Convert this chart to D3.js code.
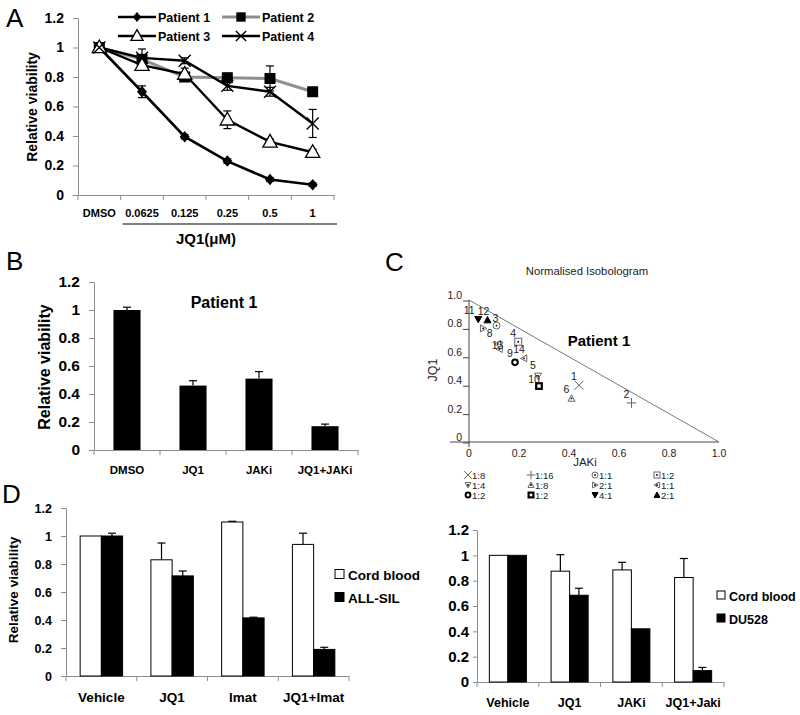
<!DOCTYPE html>
<html><head><meta charset="utf-8">
<script src="https://cdn.jsdelivr.net/npm/d3@7"></script>
<style>body{margin:0;background:#fff}svg{display:block}text{font-family:Arial,"Liberation Sans",sans-serif}</style>
</head><body><svg id="c" width="800" height="715"></svg>
<script>
// ---------- DATA ----------
const doses = ["DMSO","0.0625","0.125","0.25","0.5","1"];
const patient1 = [1,0.70,0.395,0.23,0.105,0.07];
const patient1Err = [0,0.04,0.015,0.015,0.012,0.012];
const patient2 = [1,0.92,0.80,0.795,0.79,0.70];
const patient2Err = [0,0.03,0.02,0.03,0.085,0.02];
const patient3 = [1,0.88,0.82,0.51,0.36,0.29];
const patient3Err = [0,0.03,0.04,0.06,0.02,0.02];
const patient4 = [1,0.93,0.91,0.74,0.70,0.485];
const patient4Err = [0,0.06,0.02,0.03,0.03,0.095];
const patientNames = ["Patient 1","Patient 2","Patient 3","Patient 4"];
const yTicks = [0,0.2,0.4,0.6,0.8,1,1.2];

const bCats = ["DMSO","JQ1","JAKi","JQ1+JAKi"];
const bVals = [1.0,0.46,0.51,0.17];
const bErr = [0.02,0.035,0.05,0.015];

const isoIds = ["1","2","3","4","5","6","7","8","9","10","11","12","13","14"];
const isoJAKi = [0.44,0.65,0.11,0.197,0.276,0.41,0.057,0.115,0.184,0.28,0.037,0.074,0.122,0.22];
const isoJQ1  = [0.40,0.275,0.82,0.706,0.465,0.307,0.80,0.69,0.561,0.394,0.864,0.859,0.655,0.589];
const isoSym  = ["x","plus","circleDot","squareDot","triDownDot","triUpDot","triRightDot","triLeftDot","circleBold","squareBold","triDownFill","triUpFill","triLeftDot","triLeftDot"];
const isoShowLabel = [true,true,true,true,true,true,false,true,true,true,true,true,true,true];
const isoTicks = [0,0.2,0.4,0.6,0.8,1.0];
const isoLegendSym = ["x","plus","circleDot","squareDot","triDownDot","triUpDot","triRightDot","triLeftDot","circleBold","squareBold","triDownFill","triUpFill"];
const isoLegendText = ["1:8","1:16","1:1","1:2","1:4","1:8","2:1","1:1","1:2","1:2","4:1","2:1"];

const dCatsL = ["Vehicle","JQ1","Imat","JQ1+Imat"];
const cordL = [1.0,0.83,1.10,0.94];
const cordLErr = [0,0.12,0.005,0.08];
const allSil = [1.0,0.715,0.415,0.19];
const allSilErr = [0.02,0.035,0.005,0.015];
const seriesL = ["Cord blood","ALL-SIL"];

const dCatsR = ["Vehicle","JQ1","JAKi","JQ1+Jaki"];
const cordR = [1.0,0.875,0.885,0.825];
const cordRErr = [0,0.13,0.06,0.15];
const du528 = [1.0,0.685,0.42,0.09];
const du528Err = [0,0.055,0,0.025];
const seriesR = ["Cord blood","DU528"];

// ---------- HELPERS ----------
const svg = d3.select("#c");
const AX = "#8c8c8c";
const fmt = v => v===0 ? "0" : (v===1 ? "1" : d3.format(".1f")(v));

function yAxis(y, x0, fs, tickLen, pad) {
  const g = svg.append("g").attr("transform",`translate(${x0},0)`)
    .call(d3.axisLeft(y).tickValues(yTicks).tickFormat(fmt).tickSize(tickLen).tickSizeOuter(0).tickPadding(pad));
  g.select(".domain").attr("stroke",AX);
  g.selectAll(".tick line").attr("stroke",AX);
  g.selectAll("text").attr("font-size",fs).attr("font-weight","bold").attr("fill","#000").attr("font-family",null);
  return g;
}
function catAxis(x, y0, fs, pad) {
  const g = svg.append("g").attr("transform",`translate(0,${y0})`)
    .call(d3.axisBottom(x).tickSize(0).tickSizeOuter(0).tickPadding(pad));
  g.select(".domain").attr("stroke",AX);
  g.selectAll("text").attr("font-size",fs).attr("font-weight","bold").attr("fill","#000").attr("font-family",null);
  const bounds = x.domain().map(d=>x(d)).concat([x(x.domain()[x.domain().length-1])+x.bandwidth()]);
  g.selectAll(".bt").data(bounds).join("line").attr("x1",d=>d).attr("x2",d=>d)
    .attr("y1",0).attr("y2",5).attr("stroke",AX);
  return g;
}
function errBar(x, yTop, yBase, cap, both) {
  const g = svg.append("g").attr("stroke","#000").attr("stroke-width",1.2);
  g.append("line").attr("x1",x).attr("x2",x).attr("y1",yTop).attr("y2",yBase);
  g.append("line").attr("x1",x-cap).attr("x2",x+cap).attr("y1",yTop).attr("y2",yTop);
  if (both) g.append("line").attr("x1",x-cap).attr("x2",x+cap).attr("y1",yBase).attr("y2",yBase);
}
function label(txt, x, y, fs, opts={}) {
  const t = svg.append("text").attr("x",x).attr("y",y).attr("font-size",fs).text(txt)
    .attr("font-weight",opts.bold?"bold":"normal").attr("text-anchor",opts.anchor||"start")
    .attr("fill",opts.fill||"#000");
  if (opts.rotate) t.attr("transform",`rotate(-90,${x},${y})`).attr("dy","0.35em");
  return t;
}

// ---------- PANEL A ----------
label("A",6,27,26);
const yA = d3.scaleLinear([0,1.2],[195,18]);
const xA = d3.scaleBand(doses,[78,334]);
yAxis(yA,78,14,5,9);
catAxis(xA,195,11,14);
svg.append("line").attr("x1",xA(doses[1])+2).attr("x2",xA(doses[5])+xA.bandwidth()+3)
  .attr("y1",224).attr("y2",224).attr("stroke","#000");
label("JQ1(μM)",206,244,15,{bold:true,anchor:"middle"});
label("Relative viability",32,107,14,{bold:true,anchor:"middle",rotate:true});

const cx = d => xA(d)+xA.bandwidth()/2;
const seriesA = [
  {v:patient1,e:patient1Err,color:"#000",w:2.6,m:"diamond"},
  {v:patient2,e:patient2Err,color:"#8f8f8f",w:3,m:"square"},
  {v:patient3,e:patient3Err,color:"#000",w:2.4,m:"triangle"},
  {v:patient4,e:patient4Err,color:"#000",w:2.4,m:"x"}
];
function markerA(g,type,x,y,s){
  if(type==="diamond") g.append("path").attr("d",`M${x},${y-s*1.15}L${x+s},${y}L${x},${y+s*1.15}L${x-s},${y}Z`).attr("fill","#000");
  if(type==="square") g.append("rect").attr("x",x-s).attr("y",y-s).attr("width",2*s).attr("height",2*s).attr("fill","#000");
  if(type==="triangle") g.append("path").attr("d",`M${x},${y-s*1.15}L${x+s*1.1},${y+s*0.8}L${x-s*1.1},${y+s*0.8}Z`).attr("fill","#fff").attr("stroke","#000").attr("stroke-width",1.3);
  if(type==="x") g.append("path").attr("d",`M${x-s},${y-s}L${x+s},${y+s}M${x-s},${y+s}L${x+s},${y-s}`).attr("stroke","#000").attr("stroke-width",1.4);
}
const sizeA = {diamond:5,square:5.5,triangle:6.5,x:6};
const lineA = d3.line().x((d,i)=>cx(doses[i])).y(d=>yA(d));
seriesA.forEach(s=>{
  s.v.forEach((v,i)=>{ if(s.e[i]>0) errBar(cx(doses[i]), yA(v+s.e[i]), yA(v-s.e[i]), 4, true); });
});
seriesA.forEach(s=>{
  svg.append("path").datum(s.v).attr("d",lineA).attr("fill","none").attr("stroke",s.color).attr("stroke-width",s.w);
});
seriesA.forEach(s=>{
  const g = svg.append("g");
  s.v.forEach((v,i)=>markerA(g,s.m,cx(doses[i]),yA(v),sizeA[s.m]));
});
// legend A
const legPos = [[118,17],[222,17],[118,36],[222,36]];
seriesA.forEach((s,i)=>{
  const [lx,ly] = legPos[i];
  svg.append("line").attr("x1",lx).attr("x2",lx+38).attr("y1",ly).attr("y2",ly).attr("stroke",s.color).attr("stroke-width",s.w);
  markerA(svg.append("g"),s.m,lx+19,ly,sizeA[s.m]*0.85);
  label(patientNames[i],lx+40,ly+4.5,12.5,{bold:true});
});

// ---------- PANEL B ----------
label("B",6,270,26);
const yB = d3.scaleLinear([0,1.2],[450,282]);
const xB = d3.scaleBand(bCats,[94,358]);
yAxis(yB,94,15.5,5,9);
catAxis(xB,450,11.5,16);
label("Relative viability",44,367,16,{bold:true,anchor:"middle",rotate:true});
label("Patient 1",224,308,16,{bold:true,anchor:"middle"});
bCats.forEach((c,i)=>{
  const bw = xB.bandwidth()*0.41, bx = xB(c)+xB.bandwidth()*0.295;
  errBar(bx+bw/2, yB(bVals[i]+bErr[i]), yB(bVals[i]), 4, false);
  svg.append("rect").attr("x",bx).attr("width",bw).attr("y",yB(bVals[i])).attr("height",yB(0)-yB(bVals[i])).attr("fill","#000");
});

// ---------- PANEL C ----------
label("C",385,271,26);
const xC = d3.scaleLinear([0,1],[469,719]);
const yC = d3.scaleLinear([0,1],[442,300]);
label("Normalised Isobologram",587,275,11.3,{anchor:"middle",fill:"#222"});
const gc = svg.append("g");
gc.append("line").attr("x1",xC(0)-19).attr("x2",xC(1)).attr("y1",yC(0)).attr("y2",yC(0)).attr("stroke","#444");
gc.append("line").attr("x1",xC(0)).attr("x2",xC(0)).attr("y1",yC(1)).attr("y2",yC(0)+5).attr("stroke","#444");
gc.append("line").attr("x1",xC(0)).attr("y1",yC(1)).attr("x2",xC(1)).attr("y2",yC(0)).attr("stroke","#777").attr("stroke-width",1);
isoTicks.forEach(t=>{
  gc.append("line").attr("x1",xC(0)-6).attr("x2",xC(0)).attr("y1",yC(t)+1).attr("y2",yC(t)+1).attr("stroke","#444");
  gc.append("text").attr("x",xC(0)-7).attr("y",yC(t)-1).attr("text-anchor","end").attr("font-size",10.5).attr("fill","#222")
    .text(t===0?"0":d3.format(".1f")(t));
  gc.append("text").attr("x",xC(t)).attr("y",yC(0)+15).attr("text-anchor","middle").attr("font-size",10.5).attr("fill","#222")
    .text(t===0?"0":d3.format(".1f")(t));
});
label("JAKi",585,466,11.5,{anchor:"middle",fill:"#222"});
label("JQ1",433,370,12.5,{anchor:"middle",rotate:true,fill:"#222"});
label("Patient 1",599,346,15,{bold:true,anchor:"middle"});

function isoMarker(g,type,x,y,s){
  const G="#666";
  const tri = (pts,fill,stroke)=>g.append("path").attr("d","M"+pts.map(p=>p.join(",")).join("L")+"Z").attr("fill",fill).attr("stroke",stroke).attr("stroke-width",1);
  const dot = ()=>g.append("circle").attr("cx",x).attr("cy",y).attr("r",0.9).attr("fill","#000");
  switch(type){
    case "x": g.append("path").attr("d",`M${x-s*1.3},${y-s*1.3}L${x+s*1.3},${y+s*1.3}M${x-s*1.3},${y+s*1.3}L${x+s*1.3},${y-s*1.3}`).attr("stroke",G).attr("stroke-width",1); break;
    case "plus": g.append("path").attr("d",`M${x-s*1.4},${y}L${x+s*1.4},${y}M${x},${y-s*1.4}L${x},${y+s*1.4}`).attr("stroke",G).attr("stroke-width",1); break;
    case "circleDot": g.append("circle").attr("cx",x).attr("cy",y).attr("r",s).attr("fill","#fff").attr("stroke",G); dot(); break;
    case "squareDot": g.append("rect").attr("x",x-s).attr("y",y-s).attr("width",2*s).attr("height",2*s).attr("fill","#fff").attr("stroke",G); dot(); break;
    case "triDownDot": tri([[x-s,y-s*0.8],[x+s,y-s*0.8],[x,y+s]],"#fff",G); dot(); break;
    case "triUpDot": tri([[x-s,y+s*0.8],[x+s,y+s*0.8],[x,y-s]],"#fff",G); dot(); break;
    case "triRightDot": tri([[x-s*0.8,y-s],[x-s*0.8,y+s],[x+s,y]],"#fff",G); dot(); break;
    case "triLeftDot": tri([[x+s*0.8,y-s],[x+s*0.8,y+s],[x-s,y]],"#fff",G); dot(); break;
    case "circleBold": g.append("circle").attr("cx",x).attr("cy",y).attr("r",s*0.8).attr("fill","#fff").attr("stroke","#000").attr("stroke-width",2); break;
    case "squareBold": g.append("rect").attr("x",x-s*0.8).attr("y",y-s*0.8).attr("width",1.6*s).attr("height",1.6*s).attr("fill","#fff").attr("stroke","#000").attr("stroke-width",2.2); break;
    case "triDownFill": tri([[x-s,y-s*0.8],[x+s,y-s*0.8],[x,y+s]],"#000","#000"); break;
    case "triUpFill": tri([[x-s,y+s*0.8],[x+s,y+s*0.8],[x,y-s]],"#000","#000"); break;
  }
}
const gi = svg.append("g");
isoIds.forEach((id,i)=>{
  isoMarker(gi,isoSym[i],xC(isoJAKi[i]),yC(isoJQ1[i]),3.5);
});
// small label nudges where labels crowd each other
const nudge = {"11":[-4,0],"12":[1,0],"3":[4,1],"13":[3,5],"8":[-3,-2],"5":[0,-2],"10":[0,2]};
isoIds.forEach((id,i)=>{
  const [ndx,ndy] = nudge[id]||[0,0];
  if(isoShowLabel[i]) gi.append("text").attr("x",xC(isoJAKi[i])-5+ndx).attr("y",yC(isoJQ1[i])-5+ndy)
    .attr("text-anchor","middle").attr("font-size",10.5).attr("fill","#222").text(id);
});
// legend C
const legCX = [468,531,595,657], legCY = [475,485,495];
isoLegendSym.forEach((s,i)=>{
  const col=i%4,row=Math.floor(i/4);
  isoMarker(svg.append("g"),s,legCX[col],legCY[row],3);
  label(isoLegendText[i],legCX[col]+4,legCY[row]+3.5,9.5,{fill:"#222"});
});

// ---------- PANEL D ----------
label("D",2,503,26);
function groupedBars(cats,vA,eA,vB,eB,x,y,bwFrac){
  cats.forEach((c,i)=>{
    const bw = x.bandwidth()*bwFrac, mid = x(c)+x.bandwidth()/2;
    [[vA,eA,"#fff",mid-bw],[vB,eB,"#000",mid]].forEach(([v,e,fill,bx])=>{
      if(e[i]>0) errBar(bx+bw/2, y(v[i]+e[i]), y(v[i]), 4, false);
      svg.append("rect").attr("x",bx).attr("width",bw).attr("y",y(v[i])).attr("height",y(0)-y(v[i]))
        .attr("fill",fill).attr("stroke","#000").attr("stroke-width",1);
    });
  });
}
function legendD(names,x,y0,dy,fs,sq){
  names.forEach((n,i)=>{
    svg.append("rect").attr("x",x).attr("y",y0+i*dy-sq/2-1).attr("width",sq).attr("height",sq)
      .attr("fill",i===0?"#fff":"#000").attr("stroke","#000");
    label(n,x+sq+4,y0+i*dy+fs*0.36,fs,{bold:true});
  });
}
const yDL = d3.scaleLinear([0,1.2],[676,508]);
const xDL = d3.scaleBand(dCatsL,[66,349]);
yAxis(yDL,66,12.5,5,9);
catAxis(xDL,676,13.5,16);
label("Relative viability",13,590,13.6,{bold:true,anchor:"middle",rotate:true});
groupedBars(dCatsL,cordL,cordLErr,allSil,allSilErr,xDL,yDL,0.3);
legendD(seriesL,335,575,23,13.5,9);

const yDR = d3.scaleLinear([0,1.2],[682,530]);
const xDR = d3.scaleBand(dCatsR,[477,724]);
yAxis(yDR,477,15,4,4);
catAxis(xDR,682,12.5,16.5);
groupedBars(dCatsR,cordR,cordRErr,du528,du528Err,xDR,yDR,0.3);
legendD(seriesR,717,596,23,12.5,8);
</script></body></html>
